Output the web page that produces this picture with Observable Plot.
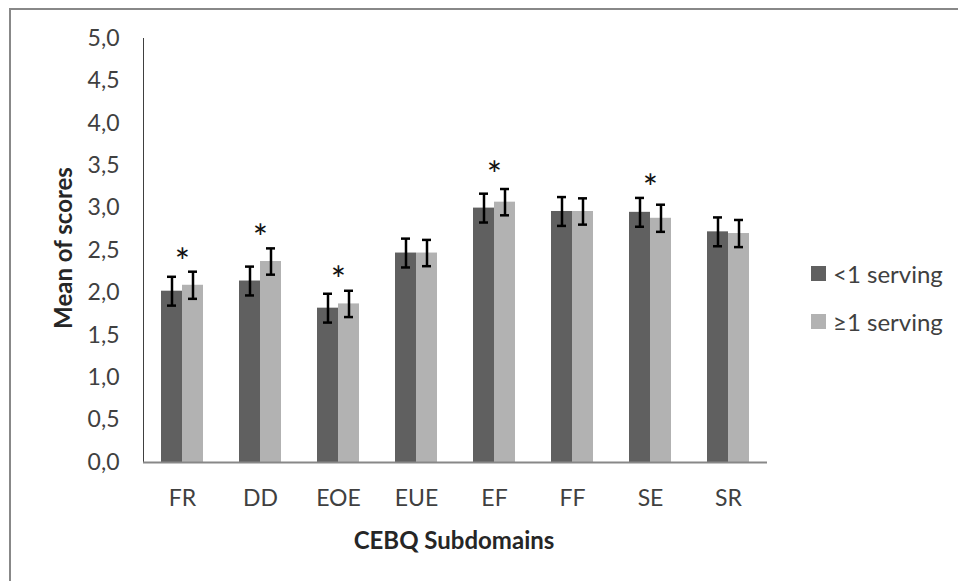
<!DOCTYPE html>
<html>
<head>
<meta charset="utf-8">
<script src="https://cdn.jsdelivr.net/npm/d3@7"></script>
<script src="https://cdn.jsdelivr.net/npm/@observablehq/plot@0.6"></script>
<style>
  html, body { margin: 0; padding: 0; background: #fff; }
  #wrap { position: relative; width: 958px; height: 581px; overflow: hidden; font-family: Lato, "Open Sans", sans-serif; color: #404040; }
  #border { position: absolute; left: 9px; top: 8px; right: -10px; bottom: -10px; border-left: 2px solid #888; border-top: 2px solid #888; }
  #chart { position: absolute; left: 0; top: 0; }
  .ytitle { position: absolute; left: 62px; top: 248px; transform: translate(-50%, -50%) rotate(-90deg); font-weight: bold; font-size: 24px; white-space: nowrap; color: #262626; }
  .xtitle { position: absolute; left: 454px; top: 539px; transform: translate(-50%, -50%); font-weight: bold; font-size: 24px; white-space: nowrap; color: #262626; }
  .legend { position: absolute; left: 811px; font-size: 24px; white-space: nowrap; display: flex; align-items: center; }
  .legend .sw { width: 15px; height: 15px; margin-right: 7px; display: inline-block; }
</style>
</head>
<body>
<div id="wrap">
  <div id="chart"></div>
  <div id="border"></div>
  <div class="ytitle">Mean of scores</div>
  <div class="xtitle">CEBQ Subdomains</div>
  <div id="legend"></div>
</div>
<script>
const categories = ["FR", "DD", "EOE", "EUE", "EF", "FF", "SE", "SR"];
const seriesNames = ["<1 serving", "\u22651 serving"];
const seriesColors = ["#606060", "#b2b2b2"];
const lessThanOne = [2.02, 2.14, 1.82, 2.47, 3.00, 2.96, 2.95, 2.72];
const atLeastOne  = [2.09, 2.37, 1.87, 2.47, 3.07, 2.96, 2.88, 2.70];
const errLessThanOne = [0.17, 0.17, 0.17, 0.17, 0.17, 0.17, 0.17, 0.17];
const errAtLeastOne  = [0.16, 0.155, 0.155, 0.155, 0.155, 0.155, 0.16, 0.16];
const starCategories = ["FR", "DD", "EOE", "EF", "SE"];
const starLevels = [2.45, 2.74, 2.24, 3.48, 3.33];
const yTicks = [0, 0.5, 1, 1.5, 2, 2.5, 3, 3.5, 4, 4.5, 5];

const rows = [];
categories.forEach((c, i) => {
  rows.push({cat: c, series: seriesNames[0], value: lessThanOne[i], err: errLessThanOne[i]});
  rows.push({cat: c, series: seriesNames[1], value: atLeastOne[i], err: errAtLeastOne[i]});
});
const stars = starCategories.map((c, i) => ({cat: c, y: starLevels[i]}));

const chart = Plot.plot({
  width: 958,
  height: 581,
  marginLeft: 141,
  marginRight: 190,
  marginTop: 38,
  marginBottom: 119,
  style: {fontFamily: "Lato, 'Open Sans', sans-serif", fontSize: "23px", color: "#404040", background: "transparent", overflow: "visible"},
  fx: {domain: categories, padding: 0, label: null, axis: "bottom", tickSize: 0, tickPadding: 27},
  x: {domain: seriesNames, paddingInner: 0, paddingOuter: 0.78, axis: null},
  y: {domain: [0, 5], ticks: yTicks, tickFormat: d => d.toFixed(1).replace(".", ","), tickSize: 0, tickPadding: 24, label: null, line: true},
  color: {domain: seriesNames, range: seriesColors},
  marks: [
    Plot.barY(rows, {fx: "cat", x: "series", y: "value", fill: "series"}),
    Plot.ruleY([0], {stroke: "#888", strokeWidth: 2}),
    Plot.ruleX(rows, {fx: "cat", x: "series", y1: d => d.value - d.err, y2: d => d.value + d.err, stroke: "black", strokeWidth: 2.5}),
    Plot.tickY(rows, {fx: "cat", x: "series", y: d => d.value + d.err, stroke: "black", strokeWidth: 2.5, insetLeft: 6, insetRight: 6}),
    Plot.tickY(rows, {fx: "cat", x: "series", y: d => d.value - d.err, stroke: "black", strokeWidth: 2.5, insetLeft: 6, insetRight: 6}),
    Plot.text(stars, {fx: "cat", y: "y", text: () => "*", fontSize: 36, fill: "#111", dy: 9})
  ]
});
document.getElementById("chart").appendChild(chart);

// colour the y axis line gray, like the reference
chart.querySelectorAll('[aria-label^="y-axis"] path, [aria-label^="y-axis"] line').forEach(el => {
  el.setAttribute("stroke", "#888");
  el.setAttribute("stroke-width", "2");
});

const legend = document.getElementById("legend");
const legendTops = [273, 321];
seriesNames.forEach((s, i) => {
  const item = document.createElement("div");
  item.className = "legend";
  item.style.top = (legendTops[i] - 15) + "px";
  item.style.height = "30px";
  item.innerHTML = `<span class="sw" style="background:${seriesColors[i]}"></span><span></span>`;
  item.lastChild.textContent = s;
  legend.appendChild(item);
});
</script>
</body>
</html>
